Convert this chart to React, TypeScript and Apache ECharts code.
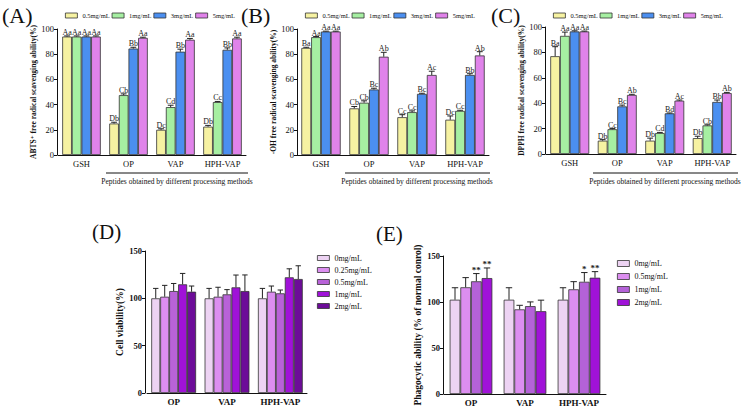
import React, { useEffect, useRef } from 'react';
import * as echarts from 'echarts';

const SERIF = '"Liberation Serif", "DejaVu Serif", serif';

// ---------- Panels A-C (antioxidant) ----------
const groupsABC = ['GSH', 'OP', 'VAP', 'HPH-VAP'];
const concABC = ['0.5mg/mL', '1mg/mL', '3mg/mL', '5mg/mL'];
const colorsABC = ['#f6f2a2', '#a6efa2', '#4b8ff0', '#e083ea'];

// rows = concentration, cols = group
const abtsValues = [
  [94, 25, 20, 22.5],
  [94, 47.5, 38, 42],
  [94, 84.5, 82, 83.5],
  [94, 93, 91.5, 92.5],
];
const abtsErrors = [
  [0.5, 1, 0.8, 1],
  [0.5, 1, 1.5, 0.5],
  [0.5, 1, 2, 1.5],
  [0.5, 0.5, 1, 1],
];
const abtsLetters = [
  ['Aa', 'Db', 'Dc', 'Db'],
  ['Aa', 'Cb', 'Cd', 'Cc'],
  ['Aa', 'Bb', 'Bb', 'Bb'],
  ['Aa', 'Aa', 'Aa', 'Aa'],
];

const ohValues = [
  [85, 37, 30, 28],
  [93.5, 41.5, 34, 35],
  [98, 52, 48.5, 63.5],
  [98, 78, 63.5, 79],
];
const ohErrors = [
  [0.5, 1.5, 2, 3],
  [0.5, 1.5, 1, 0.5],
  [0.3, 1, 0.5, 1],
  [0.3, 3.5, 3, 3],
];
const ohLetters = [
  ['Ba', 'Cb', 'Cc', 'Dc'],
  ['Aa', 'Cb', 'Cc', 'Cc'],
  ['Aa', 'Bc', 'Bc', 'Bb'],
  ['Aa', 'Ab', 'Ac', 'Ab'],
];

const dpphValues = [
  [77, 10.5, 10.5, 12.5],
  [93, 19.5, 16.5, 22.5],
  [96.5, 37.5, 32, 41],
  [96.5, 46.5, 42, 48],
];
const dpphErrors = [
  [7.5, 0.8, 2, 1.5],
  [3, 0.5, 0.5, 0.5],
  [0.5, 1, 0.3, 1.5],
  [0.3, 0.5, 0.5, 0.5],
];
const dpphLetters = [
  ['Ba', 'Db', 'Db', 'Db'],
  ['Aa', 'Cc', 'Cd', 'Cb'],
  ['Aa', 'Bc', 'Bd', 'Bb'],
  ['Aa', 'Ab', 'Ac', 'Ab'],
];

// ---------- Panel D (cell viability) ----------
const groupsDE = ['OP', 'VAP', 'HPH-VAP'];
const concD = ['0mg/mL', '0.25mg/mL', '0.5mg/mL', '1mg/mL', '2mg/mL'];
const colorsD = ['#edd3f3', '#dc8ef0', '#b862d8', '#a012d8', '#6c0c98'];
const viabilityValues = [
  [100, 100, 100],
  [101.7, 101.7, 107],
  [107.7, 104.2, 105.3],
  [114.8, 111.6, 122.2],
  [107, 107.7, 120.4],
];
const viabilityErrors = [
  [10.5, 10.5, 10.5],
  [12, 10, 6],
  [8, 5, 3.5],
  [11.5, 13, 9],
  [6, 17, 14],
];

// ---------- Panel E (phagocytic ability) ----------
const concE = ['0mg/mL', '0.5mg/mL', '1mg/mL', '2mg/mL'];
const colorsE = ['#edd3f3', '#dc8ef0', '#b462d8', '#a012d8'];
const phagoValues = [
  [102.5, 102.5, 102.5],
  [116, 92, 113.8],
  [122.5, 95.5, 122],
  [126, 90, 126.4],
];
const phagoErrors = [
  [13, 13, 13],
  [10.5, 4.4, 8.3],
  [8.4, 4.6, 10],
  [11, 12, 6.6],
];
const phagoStars = [
  ['', '', ''],
  ['', '', ''],
  ['**', '', '*'],
  ['**', '', '**'],
];

const axisColor = '#111';

function panelSeries(
  gi: number,
  names: string[],
  colors: string[],
  values: number[][],
  errors: number[][],
  labels: string[][] | null,
  gap: number,
  labelFont: string
) {
  const n = names.length;
  const out: any[] = [];
  names.forEach((name, k) => {
    out.push({
      type: 'bar',
      name,
      xAxisIndex: gi,
      yAxisIndex: gi,
      data: values[k],
      barGap: '0%',
      barCategoryGap: gap * 100 + '%',
      itemStyle: { color: colors[k], borderColor: '#333', borderWidth: 0.8 },
    });
  });
  names.forEach((name, k) => {
    const labs = labels ? labels[k] : null;
    out.push({
      type: 'custom',
      xAxisIndex: gi,
      yAxisIndex: gi,
      clip: false,
      silent: true,
      z: 5,
      data: values[k].map((v, i) => [i, v, errors[k][i]]),
      renderItem: (params: any, api: any) => {
        const ci = api.value(0);
        const v = api.value(1);
        const e = api.value(2);
        const p0 = api.coord([ci, v]);
        const p1 = api.coord([ci, v + e]);
        const band = api.size([1, 0])[0];
        const bw = (band * (1 - gap)) / n;
        const x = p0[0] + (k - (n - 1) / 2) * bw;
        const cw = bw * 0.3;
        const children: any[] = [
          { type: 'line', shape: { x1: x, y1: p0[1], x2: x, y2: p1[1] }, style: { stroke: '#222', lineWidth: 1 } },
          { type: 'line', shape: { x1: x - cw, y1: p1[1], x2: x + cw, y2: p1[1] }, style: { stroke: '#222', lineWidth: 1 } },
        ];
        const lab = labs ? labs[params.dataIndex] : '';
        if (lab) {
          children.push({
            type: 'text',
            style: { text: lab, x, y: p1[1] + 0.5, align: 'center', verticalAlign: 'bottom', font: labelFont, fill: '#222' },
          });
        }
        return { type: 'group', children };
      },
    });
  });
  return out;
}

function xAx(gi: number, data: string[], bold: boolean, size: number) {
  return {
    type: 'category',
    gridIndex: gi,
    data,
    axisLine: { lineStyle: { color: axisColor, width: 1 } },
    axisTick: { alignWithLabel: true, length: 3, lineStyle: { color: axisColor } },
    axisLabel: { fontFamily: SERIF, fontSize: size, fontWeight: bold ? 'bold' : 'normal', color: '#111', margin: 4 },
  };
}

function yAx(gi: number, max: number, interval: number, name: string, nameGap: number, bold: boolean, nameSize: number, offset: number) {
  return {
    type: 'value',
    gridIndex: gi,
    min: 0,
    max,
    interval,
    offset,
    name,
    nameLocation: 'middle',
    nameRotate: 90,
    nameGap,
    nameTextStyle: { fontFamily: SERIF, fontSize: nameSize, fontWeight: 'bold', color: '#111' },
    splitLine: { show: false },
    axisLine: { show: true, lineStyle: { color: axisColor, width: 1 } },
    axisTick: { show: true, length: 3, lineStyle: { color: axisColor } },
    axisLabel: { fontFamily: SERIF, fontSize: 8.5, fontWeight: bold ? 'bold' : 'normal', color: '#111', margin: 3 },
  };
}

function hLegend(left: number, names: string[]) {
  return {
    left,
    top: 12,
    orient: 'horizontal',
    padding: 0,
    itemWidth: 12,
    itemHeight: 5,
    itemGap: 2,
    icon: 'rect',
    selectedMode: false,
    itemStyle: { borderColor: '#333', borderWidth: 0.8 },
    textStyle: { fontFamily: SERIF, fontSize: 6.5, color: '#111', width: 25, overflow: 'none' },
    data: names.map((nm, i) => ({ name: nm, itemStyle: { color: colorsABC[i] } })),
  };
}

function vLegend(left: number, top: number, names: string[], colors: string[], lh: number, ih: number) {
  return {
    left,
    top,
    orient: 'vertical',
    padding: 0,
    itemWidth: 12,
    itemHeight: ih,
    itemGap: 0,
    icon: 'rect',
    selectedMode: false,
    itemStyle: { borderColor: '#333', borderWidth: 0.8 },
    textStyle: { fontFamily: SERIF, fontSize: 8, color: '#111', lineHeight: lh },
    data: names.map((nm, i) => ({ name: nm, itemStyle: { color: colors[i] } })),
  };
}

const SUBTITLE = 'Peptides obtained by different processing methods';

export default function App() {
  const ref = useRef<HTMLDivElement>(null);
  useEffect(() => {
    document.body.style.margin = '0';
    if (!ref.current) return;
    const chart = echarts.init(ref.current, null, { renderer: 'svg' });
    const letterFont = '8px ' + SERIF;
    const starFont = 'bold 9px ' + SERIF;
    const option: any = {
      animation: false,
      backgroundColor: '#fff',
      textStyle: { fontFamily: SERIF },
      grid: [
        { left: 58, top: 29, width: 188, height: 126 },
        { left: 297, top: 29, width: 192, height: 126 },
        { left: 546, top: 27, width: 190, height: 127 },
        { left: 147, top: 251, width: 160, height: 142 },
        { left: 444, top: 256, width: 162, height: 138 },
      ],
      xAxis: [
        xAx(0, groupsABC, false, 8.5),
        xAx(1, groupsABC, false, 8.5),
        xAx(2, groupsABC, false, 8.5),
        xAx(3, groupsDE, true, 9),
        xAx(4, groupsDE, true, 9),
      ],
      yAxis: [
        yAx(0, 100, 20, 'ABTS\u207A free radical scavenging ability(%)', 14, false, 7.5, 1),
        yAx(1, 100, 20, '\u00B7OH free radical scavenging ability(%)', 15, false, 7.5, 0),
        yAx(2, 100, 20, 'DPPH free radical scavenging ability(%)', 13, false, 7.5, 1),
        yAx(3, 150, 50, 'Cell viability(%)', 14, true, 9.5, 2),
        yAx(4, 150, 50, 'Phagocytic ability (% of normal conrol)', 15, true, 9.5, 1),
      ],
      legend: [
        hLegend(65, concABC),
        hLegend(305, concABC),
        hLegend(553, concABC),
        vLegend(317, 252, concD, colorsD, 12, 5),
        vLegend(617, 257, concE, colorsE, 13, 6),
      ],
      series: [
        ...panelSeries(0, concABC, colorsABC, abtsValues, abtsErrors, abtsLetters, 0.18, letterFont),
        ...panelSeries(1, concABC, colorsABC, ohValues, ohErrors, ohLetters, 0.18, letterFont),
        ...panelSeries(2, concABC, colorsABC, dpphValues, dpphErrors, dpphLetters, 0.18, letterFont),
        ...panelSeries(3, concD, colorsD, viabilityValues, viabilityErrors, null, 0.16, letterFont),
        ...panelSeries(4, concE, colorsE, phagoValues, phagoErrors, phagoStars, 0.21, starFont),
      ],
      graphic: [
        { type: 'text', left: 2, top: 4, style: { text: '(A)', font: '22px ' + SERIF, fill: '#111' } },
        { type: 'text', left: 241, top: 4, style: { text: '(B)', font: '22px ' + SERIF, fill: '#111' } },
        { type: 'text', left: 491, top: 4, style: { text: '(C)', font: '22px ' + SERIF, fill: '#111' } },
        { type: 'text', left: 92, top: 221, style: { text: '(D)', font: '21px ' + SERIF, fill: '#111' } },
        { type: 'text', left: 376, top: 223, style: { text: '(E)', font: '21px ' + SERIF, fill: '#111' } },
        { type: 'line', shape: { x1: 106, y1: 173, x2: 248, y2: 173 }, style: { stroke: '#111', lineWidth: 1 } },
        { type: 'line', shape: { x1: 345, y1: 173, x2: 490, y2: 173 }, style: { stroke: '#111', lineWidth: 1 } },
        { type: 'line', shape: { x1: 593, y1: 173, x2: 738, y2: 173 }, style: { stroke: '#111', lineWidth: 1 } },
        { type: 'text', x: 177, y: 181, style: { text: SUBTITLE, font: '7.5px ' + SERIF, fill: '#111', align: 'center', verticalAlign: 'middle' } },
        { type: 'text', x: 417, y: 181, style: { text: SUBTITLE, font: '7.5px ' + SERIF, fill: '#111', align: 'center', verticalAlign: 'middle' } },
        { type: 'text', x: 665, y: 181, style: { text: SUBTITLE, font: '7.5px ' + SERIF, fill: '#111', align: 'center', verticalAlign: 'middle' } },
      ],
    };
    chart.setOption(option);
    return () => chart.dispose();
  }, []);
  return <div ref={ref} style={{ width: 743, height: 413 }} />;
}
